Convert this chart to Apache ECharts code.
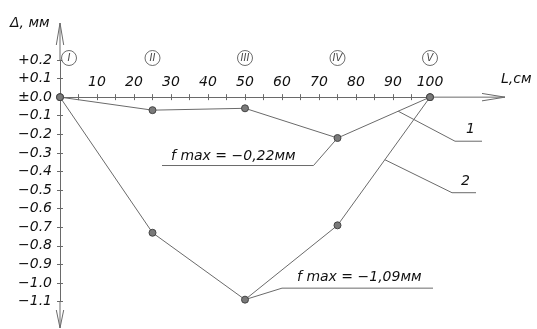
<!DOCTYPE html>
<html>
<head>
<meta charset="utf-8">
<script src="https://cdn.jsdelivr.net/npm/echarts@6/dist/echarts.min.js"></script>
<style>
  html, body { margin: 0; padding: 0; background: #fff; }
  #main { width: 537px; height: 329px; }
</style>
</head>
<body>
<div id="main"></div>
<script>
  // positions along the beam, cm
  var lengthCm = [0, 25, 50, 75, 100];
  // deflection, mm
  var deflection1 = [0, -0.07, -0.06, -0.22, 0];
  var deflection2 = [0, -0.73, -1.09, -0.69, 0];
  var stations = ['I', 'II', 'III', 'IV', 'V'];
  var stationLevel = 0.2;
  var fmaxText1 = 'f max = −0,22мм';
  var fmaxText2 = 'f max = −1,09мм';
  // where the "1" / "2" leaders touch their lines
  var leaderAt1 = 91.4;
  var leaderAt2 = 87.8;

  var font = 'DejaVu Sans';
  var ink = '#111';
  var gray = '#6a6a6a';

  function pair(xs, ys) {
    return xs.map(function (x, i) { return [x, ys[i]]; });
  }

  function interp(xs, ys, x) {
    for (var i = 1; i < xs.length; i++) {
      if (x <= xs[i]) {
        var t = (x - xs[i - 1]) / (xs[i] - xs[i - 1]);
        return ys[i - 1] + t * (ys[i] - ys[i - 1]);
      }
    }
    return ys[ys.length - 1];
  }

  function yFmt(v) {
    v = Math.round(v * 10) / 10;
    if (v > 0) return '+' + v.toFixed(1);
    if (v === 0) return '±0.0';
    return '−' + Math.abs(v).toFixed(1);
  }

  // main grid: y from -1.1 to +0.2; the 0 line sits at zeroY
  var gTop = 60, gBottom = 27.5, H = 329;
  var yMin = -1.1, yMax = 0.2;
  var zeroY = gTop + (H - gTop - gBottom) * yMax / (yMax - yMin);

  var myChart = echarts.init(document.getElementById('main'));

  myChart.setOption({
    animation: false,
    grid: [
      { left: 60, right: 107, top: gTop, bottom: gBottom },
      // second grid ends on the zero line, it carries the L axis
      { left: 60, right: 107, top: gTop, bottom: H - zeroY }
    ],
    xAxis: [{
      gridIndex: 0, type: 'value', min: 0, max: 100, interval: 5,
      show: false
    }, {
      gridIndex: 1, type: 'value', min: 0, max: 100, interval: 5,
      position: 'bottom',
      axisLine: { onZero: false, lineStyle: { color: gray, width: 1 } },
      axisTick: { show: true, inside: true, length: 3, lineStyle: { color: gray } },
      axisLabel: {
        inside: true, margin: 8,
        fontFamily: font, fontStyle: 'italic', fontSize: 14, color: ink,
        formatter: function (v) { return (v > 0 && v % 10 === 0) ? String(v) : ''; }
      },
      splitLine: { show: false }
    }, {
      gridIndex: 1, type: 'value', min: 0, max: 100, interval: 5,
      position: 'bottom', offset: 0,
      axisLine: { show: false, onZero: false },
      axisTick: { show: true, inside: false, length: 3, lineStyle: { color: gray } },
      axisLabel: { show: false },
      splitLine: { show: false }
    }],
    yAxis: [{
      gridIndex: 0, type: 'value', min: yMin, max: yMax, interval: 0.1,
      position: 'left',
      axisLine: { show: true, onZero: false, lineStyle: { color: gray, width: 1 } },
      axisTick: { show: true, inside: true, length: 3, lineStyle: { color: gray } },
      axisLabel: {
        margin: 8,
        fontFamily: font, fontStyle: 'italic', fontSize: 14, color: ink,
        formatter: yFmt
      },
      splitLine: { show: false }
    }, {
      gridIndex: 0, type: 'value', min: yMin, max: yMax, interval: 0.1,
      position: 'left', offset: 0,
      axisLine: { show: false, onZero: false },
      axisTick: { show: true, inside: false, length: 3, lineStyle: { color: gray } },
      axisLabel: { show: false },
      splitLine: { show: false }
    }, {
      gridIndex: 1, type: 'value', min: 0, max: 1, show: false
    }],
    series: [
      {
        name: '1',
        type: 'line',
        xAxisIndex: 0, yAxisIndex: 0,
        data: pair(lengthCm, deflection1),
        symbol: 'circle', symbolSize: 7,
        lineStyle: { color: gray, width: 1 },
        itemStyle: { color: '#7a7a7a', borderColor: '#444', borderWidth: 1 },
        silent: true, z: 3
      },
      {
        name: '2',
        type: 'line',
        xAxisIndex: 0, yAxisIndex: 0,
        data: pair(lengthCm, deflection2),
        symbol: 'circle', symbolSize: 7,
        lineStyle: { color: gray, width: 1 },
        itemStyle: { color: '#7a7a7a', borderColor: '#444', borderWidth: 1 },
        silent: true, z: 3
      },
      {
        name: 'stations',
        type: 'scatter',
        xAxisIndex: 0, yAxisIndex: 0,
        data: lengthCm.map(function (x, i) {
          return {
            name: stations[i],
            value: [x, stationLevel],
            symbolOffset: i === 0 ? [9, -2] : [0, -2]
          };
        }),
        symbol: 'circle', symbolSize: 15,
        itemStyle: { color: '#fff', borderColor: '#333', borderWidth: 0.9 },
        label: {
          show: true, position: 'inside', formatter: '{b}',
          fontFamily: font, fontStyle: 'italic', fontSize: 10, color: ink
        },
        silent: true,
        z: 5
      }
    ]
  });

  // axis extensions, arrows, leaders and notes
  var px = function (x, y) { return myChart.convertToPixel({ gridIndex: 0 }, [x, y]); };
  var o = px(0, 0);
  var xEnd = px(100, 0);
  var yTop = px(0, yMax);
  var yBot = px(0, yMin);
  var lineSt = { stroke: gray, lineWidth: 1, fill: null };

  function poly(points) {
    return { type: 'polyline', silent: true, shape: { points: points }, style: lineSt };
  }
  function txt(x, y, s) {
    return {
      type: 'text', silent: true,
      style: {
        text: s, x: x, y: y, verticalAlign: 'middle',
        font: 'italic 14px "' + font + '"', fill: ink
      }
    };
  }

  var p1 = px(lengthCm[3], deflection1[3]);
  var p2 = px(lengthCm[2], deflection2[2]);
  var l1 = px(leaderAt1, interp(lengthCm, deflection1, leaderAt1));
  var l2 = px(leaderAt2, interp(lengthCm, deflection2, leaderAt2));

  myChart.setOption({
    graphic: [
      poly([[o[0], yTop[1]], [o[0], 23]]),
      poly([[o[0] - 3.7, 45], [o[0], 23], [o[0] + 3.7, 45]]),
      poly([[o[0], yBot[1]], [o[0], 328]]),
      poly([[o[0] - 3.7, 310], [o[0], 328], [o[0] + 3.7, 310]]),
      poly([[xEnd[0], o[1]], [505, o[1]]]),
      poly([[482, o[1] - 3.7], [505, o[1]], [482, o[1] + 3.7]]),
      txt(10, 23, 'Δ, мм'),
      txt(501, 79, 'L,см'),
      // leader 1
      poly([l1, [455, l1[1] + 30], [482, l1[1] + 30]]),
      txt(466, l1[1] + 18, '1'),
      // leader 2
      poly([l2, [452, l2[1] + 33], [476, l2[1] + 33]]),
      txt(461, l2[1] + 22, '2'),
      // f max on curve 1
      poly([p1, [p1[0] - 24, p1[1] + 27.5], [162, p1[1] + 27.5]]),
      txt(171, p1[1] + 18, fmaxText1),
      // f max on curve 2
      poly([p2, [p2[0] + 37, p2[1] - 11.5], [433, p2[1] - 11.5]]),
      txt(297, p2[1] - 22.5, fmaxText2)
    ]
  });
</script>
</body>
</html>
